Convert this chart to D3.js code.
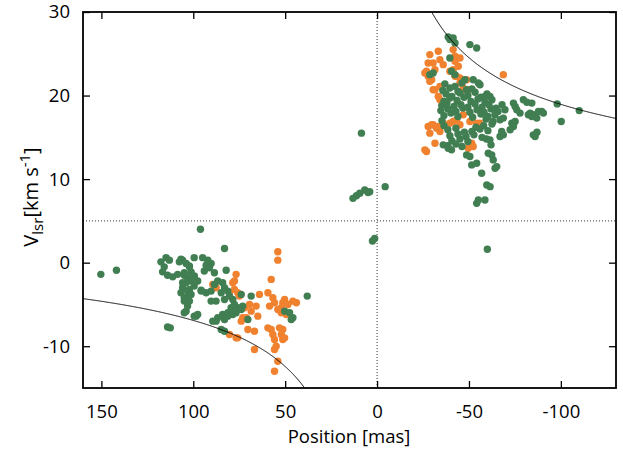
<!DOCTYPE html>
<html>
<head>
<meta charset="utf-8">
<script src="https://cdn.jsdelivr.net/npm/d3@7"></script>
<style>
  html, body { margin: 0; padding: 0; background: #fff; }
  svg { display: block; font-family: "Open Sans", "DejaVu Sans", sans-serif; }
</style>
</head>
<body>
<div id="chart"></div>
<script>
// data: [position (mas), Vlsr (km/s)]
const orangeSpots = [
  // north-east cluster
  [-28.7,24.9],[-33.3,25.3],[-41.4,25.5],[-42.4,24.7],[-27.8,23.9],[-26.9,22.9],[-30.5,23.9],
  [-34.2,24.3],[-36.0,23.7],[-31.5,23.1],[-26.0,22.7],[-29.7,21.9],[-42.4,24.1],[-45.1,24.5],
  [-44.2,23.5],[-41.4,23.1],[-39.6,22.9],[-30.5,20.7],[-34.2,21.1],[-42.4,22.3],[-45.1,22.1],
  [-46.9,20.7],[-48.7,21.9],[-68.7,22.5],[-27.8,22.3],[-28.7,21.7],[-31.5,20.7],[-33.3,19.9],
  [-34.2,19.5],[-43.3,22.3],[-45.1,21.5],[-46.9,20.9],[-49.6,20.7],
  [-27.8,16.3],[-30.5,16.5],[-32.4,16.1],[-34.2,15.7],[-33.3,16.3],[-36.0,16.7],[-28.7,15.5],
  [-31.5,14.3],[-26.9,13.3],[-26.0,13.5],[-29.7,16.5],
  [-43.3,17.1],[-45.1,16.5],[-50.5,16.9],[-56.0,16.7],[-51.5,14.3],[-52.3,13.9],[-49.6,13.7],
  [-39.6,16.7],[-41.4,16.9],[-46.9,17.7],[-54.2,16.7],
  // south-west cluster
  [76.7,-1.4],[77.6,-2.2],[78.5,-2.4],[75.8,-3.6],[74.9,-4.0],[73.1,-6.6],[73.9,-7.0],[71.2,-6.6],
  [70.3,-8.0],[66.7,-8.2],[76.7,-9.0],[80.3,-8.6],[69.4,-5.0],[68.5,-5.8],[64.9,-6.4],[64.0,-3.8],
  [59.4,-3.6],[57.6,-2.0],[54.0,1.3],[54.0,0.3],[56.7,-4.2],[55.8,-4.8],[58.5,-5.2],[54.0,-5.6],
  [52.1,-5.4],[51.3,-4.8],[50.3,-4.4],[45.8,-4.6],[43.9,-4.8],[48.5,-5.0],[52.1,-6.0],[49.4,-6.2],
  [59.4,-7.8],[57.6,-8.0],[56.7,-8.6],[55.8,-9.2],[54.9,-10.0],[55.8,-10.4],[54.0,-11.8],[55.8,-13.0],
  [53.1,-7.8],[51.3,-8.0],[52.1,-8.6],[51.3,-9.2],[50.3,-9.0],[66.7,-10.4],[80.3,-3.6],[77.6,-3.2],
  [89.4,-2.6],[87.6,-3.0],[72.1,-5.4],[65.8,-5.2],[75.8,-9.0]
];

const greenSpots = [
  // north-east cluster, top
  [-38.7,27.0],[-41.4,26.9],[-39.6,26.7],[-42.4,26.3],[-50.5,26.1],[-54.2,25.7],
  [-39.6,24.5],[-28.7,22.5],[-30.5,22.7],[-40.5,22.9],[-42.4,22.5],[-52.3,21.9],[-55.1,21.5],
  [-48.7,20.7],[-47.8,21.9],[-56.0,21.3],[-58.7,19.9],[-61.4,19.9],
  // north-east cluster, body
  [-36.9,21.4],[-42.4,21.1],[-46.2,21.5],
  [-35.8,20.6],[-39.6,20.9],[-44.0,20.5],[-51.6,20.8],
  [-37.5,20.2],[-40.7,19.9],[-45.1,20.3],[-49.4,20.0],[-53.3,20.4],[-56.5,19.8],[-59.8,20.2],
  [-36.4,19.3],[-39.6,19.7],[-43.5,19.4],[-47.3,19.8],[-51.1,19.3],[-54.9,19.6],[-58.7,19.2],[-62.5,19.5],
  [-35.2,18.8],[-38.0,19.1],[-41.8,18.7],[-45.6,18.9],[-49.4,18.6],[-53.3,19.0],[-57.1,18.6],[-60.9,18.9],[-64.7,18.5],[-68.0,18.9],
  [-34.7,18.2],[-38.5,18.4],[-42.9,18.1],[-46.7,18.5],[-50.5,18.0],[-54.4,18.3],[-58.2,18.0],[-62.0,18.4],[-65.8,18.1],[-69.6,18.3],
  [-36.4,17.6],[-40.2,17.9],[-44.0,17.5],[-56.5,17.8],[-60.3,17.5],[-64.1,17.7],[-52.0,17.4],
  [-35.3,17.0],[-59.3,17.2],[-63.1,16.9],[-66.9,17.1],
  [-36.4,16.4],[-58.0,16.4],[-62.5,16.6],[-47.5,15.6],
  [-38.5,15.9],[-42.9,16.1],[-51.6,15.7],[-56.0,16.0],[-60.3,15.8],[-53.8,16.2],
  [-39.6,15.2],[-44.0,15.4],[-48.4,15.1],[-52.7,15.3],[-57.1,15.0],[-66.9,15.1],[-59.5,14.8],
  [-40.7,14.6],[-45.1,14.8],[-49.4,14.5],[-61.4,14.7],
  [-38.5,14.0],[-42.9,14.2],[-46.2,13.9],[-62.0,14.1],[-36.0,14.1],
  // drips below
  [-40.5,13.5],[-38.7,13.7],[-48.7,12.9],[-50.5,12.7],[-51.5,11.7],[-54.2,11.9],[-56.9,10.7],
  [-60.5,13.1],[-62.4,12.9],[-63.2,12.3],[-65.1,11.5],[-64.2,11.3],[-59.7,9.3],[-61.5,9.1],
  [-55.1,7.5],[-58.7,7.5],[-54.2,7.1],
  // eastern tail
  [-79.6,19.5],[-81.5,19.2],[-84.2,19.1],[-74.2,19.1],[-75.1,18.7],[-76.0,18.3],[-77.8,17.9],
  [-83.3,17.9],[-85.1,17.7],[-87.8,18.1],[-89.6,18.1],[-90.5,17.9],[-86.9,17.3],[-82.3,17.7],
  [-84.2,17.5],[-73.3,16.7],[-74.2,16.3],[-72.4,15.9],[-75.1,16.9],[-68.7,17.3],[-67.8,15.7],
  [-68.7,15.3],[-85.0,15.3],[-87.0,15.6],[-86.0,15.1],[-98.0,19.0],[-110.0,18.2],[-100.2,16.9],
  // central features
  [8.5,15.5],[-4.4,9.1],[13.1,7.7],[11.2,8.0],[9.4,8.3],[6.7,8.7],[4.9,8.4],[4.0,8.5],
  [2.5,2.6],[1.3,2.9],[-60.0,1.6],
  // south-west cluster
  [150.3,-1.4],[141.8,-0.9],[96.1,4.0],[83.0,1.7],[38.0,-4.0],[114.0,-7.7],[112.5,-7.8],
  [117.6,0.1],[114.8,0.6],[113.0,0.3],[115.8,-0.5],[116.7,-1.1],[114.0,-1.5],[111.2,-1.7],
  [107.6,0.1],[105.8,0.3],[103.9,-0.1],[102.1,-0.5],[101.2,-1.1],[99.5,0.6],[94.9,0.6],
  [104.9,-1.5],[103.1,-1.8],[101.2,-2.2],[103.9,-2.4],[105.8,-3.0],[103.1,-3.4],[101.2,-3.8],
  [104.9,-4.2],[102.1,-4.6],[99.5,-2.8],[97.6,-2.2],[95.7,-3.4],
  [106.7,0.4],[102.1,-0.4],[104.9,-1.2],[99.4,-1.6],[105.8,-2.4],[102.1,-3.2],[106.7,-3.6],
  [103.1,-4.0],[104.9,-4.6],[103.1,-5.2],[103.9,-5.8],[98.5,-6.4],[108.5,-1.4],
  [92.1,0.3],[90.3,-0.1],[93.0,-0.3],[91.2,-0.6],[94.0,-1.0],[88.5,-1.2],[82.1,-0.9],
  [95.7,-3.3],[93.0,-3.6],[90.3,-3.4],[88.5,-2.6],[86.7,-2.2],[84.0,-2.4],[83.0,-3.0],[81.2,-3.4],
  [84.8,-3.6],[80.3,-4.0],[83.0,-4.4],[78.5,-4.4],[77.6,-5.0],[75.8,-5.4],[73.9,-5.6],[73.1,-5.2],
  [79.4,-5.4],[81.2,-6.0],[84.0,-6.2],[86.7,-6.6],[89.4,-7.0],[87.6,-7.0],[83.0,-6.8],[81.2,-6.4],
  [78.5,-6.2],[76.7,-6.0],[84.8,-8.0],[83.0,-8.2],[90.3,-4.6],[87.6,-4.6],[68.5,-4.0],[70.3,-6.8],
  [73.9,-3.8],[50.3,-5.8],[47.6,-6.0],[45.8,-6.6],[46.7,-6.8],
  [104.9,-6.0],[99.5,-6.4],[97.6,-6.2]
];

// Keplerian envelopes: v = v0 +/- a / sqrt(|x - x0|)
const upperCurve = { x0: 2.05, v0: 5, a: 140.9, sign: 1 };
const lowerCurve = { x0: 6.13, v0: 5, a: 115.4, sign: -1 };

const xTicks = [150, 100, 50, 0, -50, -100];
const xTickLabels = ["150", "100", "50", "0", "-50", "-100"];
const yTicks = [30, 20, 10, 0, -10];
const yTickLabels = ["30", "20", "10", "0", "-10"];
const systemicV = 5;

const W = 623, H = 451;
const margin = { top: 12, right: 7, bottom: 63, left: 83 };
const iw = W - margin.left - margin.right;
const ih = H - margin.top - margin.bottom;

const svg = d3.select("#chart").append("svg").attr("width", W).attr("height", H);
const g = svg.append("g").attr("transform", `translate(${margin.left},${margin.top})`);

const x = d3.scaleLinear().domain([160, -130]).range([0, iw]);
const y = d3.scaleLinear().domain([-15, 30]).range([ih, 0]);

g.append("clipPath").attr("id", "clip")
  .append("rect").attr("width", iw).attr("height", ih);

const plot = g.append("g").attr("clip-path", "url(#clip)");

// reference lines
plot.append("line")
  .attr("x1", 0).attr("x2", iw).attr("y1", y(systemicV)).attr("y2", y(systemicV))
  .attr("stroke", "#333").attr("stroke-width", 1).attr("stroke-dasharray", "1,2");
plot.append("line")
  .attr("x1", x(0)).attr("x2", x(0)).attr("y1", 0).attr("y2", ih)
  .attr("stroke", "#333").attr("stroke-width", 1).attr("stroke-dasharray", "1,2");

// spots
const r = 3.7;
plot.append("g").selectAll("circle").data(orangeSpots).join("circle")
  .attr("cx", d => x(d[0])).attr("cy", d => y(d[1])).attr("r", r)
  .attr("fill", "#f0812f");
plot.append("g").selectAll("circle").data(greenSpots).join("circle")
  .attr("cx", d => x(d[0])).attr("cy", d => y(d[1])).attr("r", r)
  .attr("fill", "#417f52");

// curves
function curvePoints(c) {
  const xs = c.sign > 0 ? d3.range(-130, c.x0 - 15, 0.25) : d3.range(c.x0 + 15, 160.5, 0.25);
  return xs.map(xv => [xv, c.v0 + c.sign * c.a / Math.sqrt(Math.abs(xv - c.x0))]);
}
const line = d3.line().x(d => x(d[0])).y(d => y(d[1]));
[upperCurve, lowerCurve].forEach(c => {
  plot.append("path").attr("d", line(curvePoints(c)))
    .attr("fill", "none").attr("stroke", "#000").attr("stroke-width", 1);
});

// axes with inward ticks on all sides
const tl = 7;
g.append("g").attr("transform", `translate(0,${ih})`)
  .call(d3.axisBottom(x).tickValues(xTicks).tickFormat((d, i) => xTickLabels[i]).tickSizeInner(-tl).tickSizeOuter(0).tickPadding(tl + 10))
  .call(a => a.select(".domain").remove());
g.append("g")
  .call(d3.axisTop(x).tickValues(xTicks).tickFormat("").tickSizeInner(-tl).tickSizeOuter(0))
  .call(a => a.select(".domain").remove());
g.append("g")
  .call(d3.axisLeft(y).tickValues(yTicks).tickFormat((d, i) => yTickLabels[i]).tickSizeInner(-tl).tickSizeOuter(0).tickPadding(tl + 6))
  .call(a => a.select(".domain").remove());
g.append("g").attr("transform", `translate(${iw},0)`)
  .call(d3.axisRight(y).tickValues(yTicks).tickFormat("").tickSizeInner(-tl).tickSizeOuter(0))
  .call(a => a.select(".domain").remove());

g.selectAll(".tick line").attr("stroke", "#000").attr("stroke-width", 1.3);
g.selectAll(".tick text").attr("fill", "#000").style("font-size", "18.5px")
  .style("font-family", "\"Open Sans\", sans-serif");

g.append("rect").attr("width", iw).attr("height", ih)
  .attr("fill", "none").attr("stroke", "#000").attr("stroke-width", 1.8);

// axis titles
svg.append("text")
  .attr("x", 349).attr("y", H - 8)
  .attr("text-anchor", "middle").style("font-size", "18.5px").attr("fill", "#000")
  .text("Position [mas]");

const yl = svg.append("text")
  .attr("transform", `translate(38,197) rotate(-90)`)
  .attr("text-anchor", "middle").style("font-size", "20px").attr("fill", "#000");
yl.append("tspan").text("V");
yl.append("tspan").attr("dy", 5).style("font-size", "15px").text("lsr");
yl.append("tspan").attr("dy", -5).text("[km s");
yl.append("tspan").attr("dy", -8).style("font-size", "15px").text("-1");
yl.append("tspan").attr("dy", 8).text("]");
</script>
</body>
</html>
